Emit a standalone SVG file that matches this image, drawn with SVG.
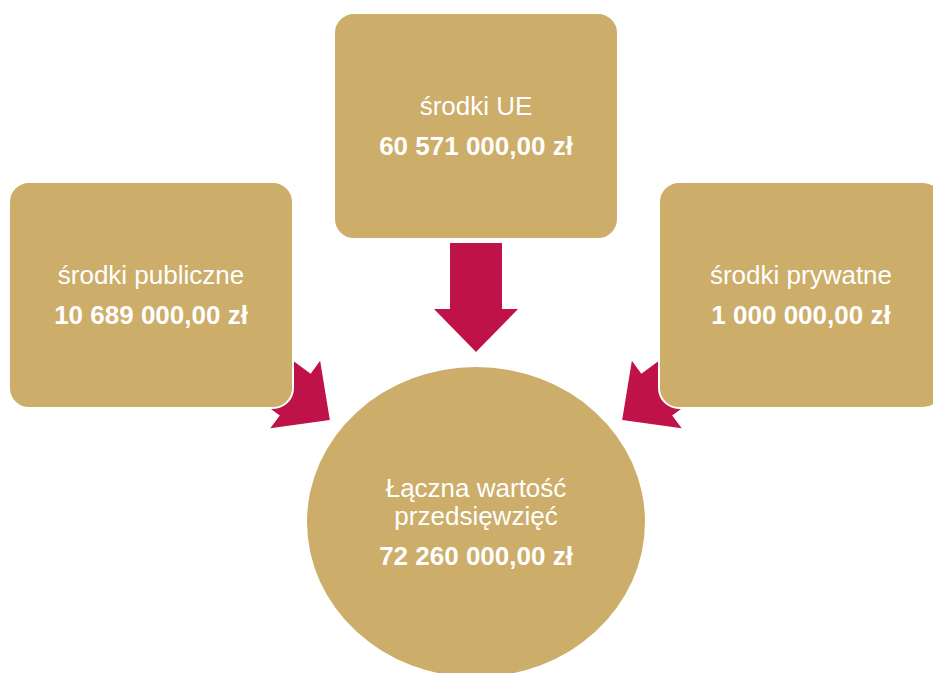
<svg xmlns="http://www.w3.org/2000/svg" width="933" height="673" viewBox="0 0 933 673">
<defs>
<style>
.box{fill:#CDAD6A;stroke:#FFFFFF;stroke-width:2}
.arrow{fill:#BE1248}
.t{font-family:"Liberation Sans",Arial,sans-serif;font-size:26px;fill:#FFFFFF;text-anchor:middle}
.b{font-weight:bold}
</style>
<polygon id="arr" points="-26,0 26,0 26,66 42,66 0,109 -42,66 -26,66"/>
</defs>
<rect width="933" height="673" fill="#FFFFFF"/>
<g id="connectors">
<use href="#arr" class="arrow" transform="translate(476,243)"/>
<use href="#arr" class="arrow" transform="translate(242.1,355.4) rotate(-53.6)"/>
<use href="#arr" class="arrow" transform="translate(709.9,355.4) rotate(53.6)"/>
</g>
<g id="node-ue">
<rect class="box" x="334" y="13" width="284" height="226" rx="20" ry="20"/>
<text class="t" x="476" y="115">środki UE</text>
<text class="t b" x="476" y="155">60 571 000,00 zł</text>
</g>
<g id="node-publiczne">
<rect class="box" x="9" y="182" width="284" height="226" rx="20" ry="20"/>
<text class="t" x="151" y="284">środki publiczne</text>
<text class="t b" x="151" y="324">10 689 000,00 zł</text>
</g>
<g id="node-prywatne">
<rect class="box" x="659" y="182" width="284" height="226" rx="20" ry="20"/>
<text class="t" x="801" y="284">środki prywatne</text>
<text class="t b" x="801" y="324">1 000 000,00 zł</text>
</g>
<g id="node-total">
<ellipse cx="476" cy="522" rx="169" ry="155" fill="#CDAD6A"/>
<text class="t" x="476" y="497">Łączna wartość</text>
<text class="t" x="476" y="525">przedsięwzięć</text>
<text class="t b" x="476" y="565">72 260 000,00 zł</text>
</g>
</svg>
